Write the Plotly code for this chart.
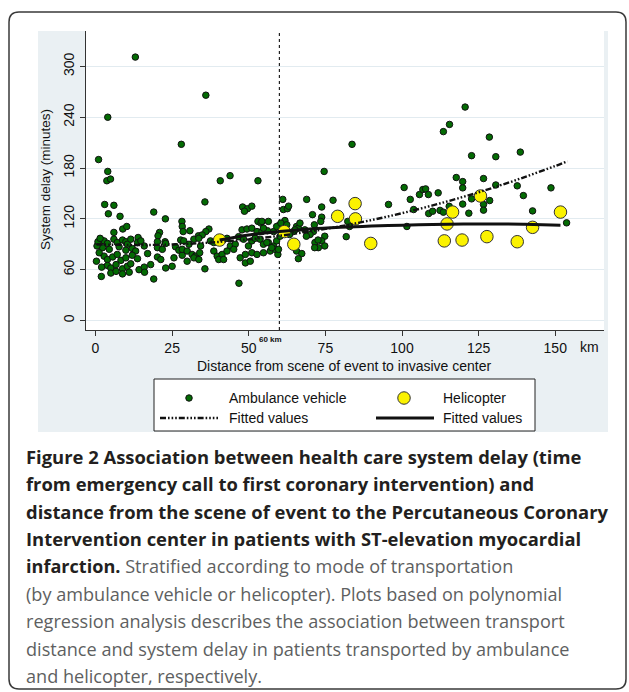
import plotly.graph_objects as go

W, H = 629, 692


def PX(x):
    return x / W


def PY(y):
    return 1 - y / H


# ---------------- data ----------------
amb_km = [
    # 0-30 km, high values / outliers
    13, 4, 1, 4, 3.7, 4.9, 3, 6, 4.2, 8, 19, 22.8, 28, 8.9, 10.2, 6, 28.2, 28.3, 28.6, 20.9, 20.4, 13.9, 22.7, 1.9, 19,
    # 0-30 km, main band
    1.8, 2.8, 3.9, 6.0, 7.1, 8.8, 9.9, 10.4, 11.5, 13.7, 14.8, 20.2, 22.9, 27.8,
    2.3, 4.5, 7.7, 9.9, 12.0, 13.1, 15.9, 20.2, 21.8, 26.1, 27.2,
    2.8, 3.9, 5.6, 7.1, 8.3, 9.9, 12.0, 13.7, 17.0, 20.2, 21.3, 25.6, 28.3,
    3.9, 5.0, 6.7, 8.8, 10.4, 11.5, 14.2, 15.9, 18.0, 22.9, 25.0,
    5.0, 6.7, 8.8, 11.0, 16.0,
    0.5, 0.8, 1.2, 0.3, 1.5, 2.0,
    # 28-60 km
    36, 40.7, 43.9, 53, 35.7, 48, 49.6, 51, 48.6, 53, 54, 59.8, 33.6, 37, 36,
    30.8, 34.8, 47.8, 49.4, 51, 52.7, 54.3, 56.1, 58.1,
    28.8, 30.5, 32.1, 33.7, 34.3, 37.5, 38.6, 42.9, 44, 45.6, 46.7, 48.3, 49.9, 51, 52.1, 53.7, 54.8, 56.4, 58.1, 59.1,
    28.3, 29.9, 31.5, 32.6, 34, 38.6, 39.7, 41.3, 42.9, 45.1, 47.2, 48.9, 51, 52.7, 54.8, 57, 58.6, 59.5,
    29.9, 32.1, 33.7, 40.2, 41.8, 48.9, 50.5,
    35.7, 46.8,
    # 54-75 km
    54.3, 56.4, 54.8, 59.1, 60.2, 55.9, 57.5, 59.7, 61.1, 61.3, 62.6, 63, 61.8, 64.6, 65.6, 66.2, 66.7, 68.9,
    70.8, 71.4, 73.8, 73.8, 73.5, 74.8, 71.1, 70, 71.6, 73.8, 74.8, 72.7, 65.6, 67.3, 66.2, 65.1, 63.3,
    68.3, 68.8, 72.6, 71.5, 60.5, 62.4,
    # 75-105 km
    83.7, 74.6, 77.5, 81.8, 82.9, 82.3, 95.6, 100.7, 102.7, 103.8, 101.6,
    # 105-155 km
    120.6, 115.5, 113.5, 128.5, 122.7, 130.6, 138.6, 117.7, 119.8, 119.8, 126.6, 105.7, 106.8, 107.7, 108.6,
    111.8, 137.6, 139.6, 148.6, 122.7, 119.8, 121.8, 126.6, 126.6, 128.6, 130.6, 108.7, 110, 112.4, 113.5,
    115.4, 142.6, 153.7,
]
amb_min = [
    311, 240, 190, 176, 165, 167, 137, 136, 126, 123, 128, 120, 208, 108, 111, 104, 117, 111, 105, 104, 100, 98, 93, 52, 49,
    95, 94, 91, 96, 92, 95, 93, 90, 96, 92, 94, 93, 91, 95,
    86, 84, 87, 83, 85, 82, 88, 86, 84, 87, 83,
    76, 72, 75, 78, 71, 74, 77, 73, 79, 75, 72, 74, 77,
    65, 62, 66, 61, 64, 67, 60, 63, 66, 62, 64,
    56, 58, 55, 57, 57,
    88, 93, 80, 70, 97, 63,
    266, 165, 171, 165, 140, 134, 132, 135, 129, 117, 115, 112, 100, 108, 105,
    106, 101, 107, 108, 109, 105, 105, 106, 105,
    94, 90, 96, 97, 88, 94, 92, 97, 88, 90, 99, 96, 88, 94, 97, 96, 90, 92, 88, 94,
    84, 82, 78, 76, 80, 82, 76, 78, 82, 84, 74, 78, 80, 78, 80, 82, 84, 78,
    70, 74, 72, 72, 72, 68, 70,
    61, 44,
    117, 117, 109, 111, 99.5, 92, 86, 84, 143, 131, 132, 135, 118, 105, 111, 109, 115, 143,
    125, 113, 134, 122, 117, 99.5, 105, 101.5, 92, 94, 88, 86, 82, 79, 73, 107, 101.5,
    107, 99.5, 95, 86, 115, 113,
    208, 176, 142, 99, 111, 117, 137, 157, 143, 131, 111,
    252, 231.5, 223, 216.5, 194.6, 193.4, 198.8, 168.8, 164, 156.6, 167.6, 148.7, 154.6, 155.4, 148.7,
    150.7, 159, 147.5, 156.6, 143.6, 137.4, 126.7, 137, 130.3, 141.6, 160, 126.3, 129, 130, 127.9,
    134.8, 129.4, 115.3,
]

heli_km = [40.5, 61.6, 64.7, 79, 84.7, 84.8, 89.8, 113.8, 114.7, 116.5, 119.6, 125.6, 127.7, 137.6, 142.6, 151.7]
heli_min = [95, 105, 90, 123, 138, 120, 91, 94, 114, 128, 95, 147, 99, 93, 110, 128]

amb_fit_km = [0.3, 10, 20, 30, 40, 50, 60, 70, 80, 90, 100, 110, 120, 130, 140, 150, 154]
amb_fit_min = [90, 89.2, 89.3, 90.5, 92.7, 95.8, 100, 105.2, 111.3, 118.5, 126.7, 135.9, 146, 157.1, 169.3, 182.4, 188]

heli_fit_km = [40.5, 50, 60, 70, 80, 90, 100, 110, 120, 130, 140, 151.7]
heli_fit_min = [95, 101, 105, 108, 110, 111.5, 112.5, 113.3, 113.8, 114, 113.5, 112.5]

x_ticks = [0, 25, 50, 75, 100, 125, 150]
y_ticks = [0, 60, 120, 180, 240, 300]
cutoff_km = 60

caption_lines = [
    "<b>Figure 2 Association between health care system delay (time</b>",
    "<b>from emergency call to first coronary intervention) and</b>",
    "<b>distance from the scene of event to the Percutaneous Coronary</b>",
    "<b>Intervention center in patients with ST-elevation myocardial</b>",
    "<b><span style='color:#231f20'>infarction.</span></b> Stratified according to mode of transportation",
    "(by ambulance vehicle or helicopter). Plots based on polynomial",
    "regression analysis describes the association between transport",
    "distance and system delay in patients transported by ambulance",
    "and helicopter, respectively.",
]
caption_bold = [True, True, True, True, False, False, False, False, False]

# ---------------- geometry (pixels) ----------------
PLOT_L, PLOT_R, PLOT_T, PLOT_B = 85.5, 604, 31, 330
X0_PX, X_SCALE = 95.5, 3.065      # px of 0 km, px per km
Y0_PX, Y_SCALE = 320.5, 0.847     # px of 0 min, px per min
x_range = [(PLOT_L - X0_PX) / X_SCALE, (PLOT_R - X0_PX) / X_SCALE]
y_range = [(Y0_PX - PLOT_B) / Y_SCALE, (Y0_PX - PLOT_T) / Y_SCALE]

AX_FONT = "Liberation Sans, Arial, sans-serif"
CAP_FONT = "Open Sans, Noto Sans, sans-serif"
GREEN = "#036b03"
YELLOW = "#fbf200"

fig = go.Figure()

fig.add_trace(go.Scatter(
    x=amb_km, y=amb_min, mode="markers", name="Ambulance vehicle",
    marker=dict(size=6.5, color=GREEN, line=dict(color="#111111", width=1)),
))
fig.add_trace(go.Scatter(
    x=heli_km, y=heli_min, mode="markers", name="Helicopter",
    marker=dict(size=12.5, color=YELLOW, line=dict(color="#333333", width=1)),
))
AMB_DASH = "6px,2px,1.6px,2px,1.6px,2px,1.6px,2px"
fig.add_trace(go.Scatter(
    x=amb_fit_km, y=amb_fit_min, mode="lines", name="Fitted values",
    line=dict(color="#111111", width=2.4, dash=AMB_DASH, shape="spline"),
))
fig.add_trace(go.Scatter(
    x=heli_fit_km, y=heli_fit_min, mode="lines", name="Fitted values",
    line=dict(color="#111111", width=3, shape="spline"),
))

shapes = []
# gray graph region around the plot region
GRAY = "#eaf0f3"
for x0, y0, x1, y1 in [(38, 31, PLOT_L, 432), (38, PLOT_B, 608, 432), (PLOT_R, 31, 608, PLOT_B)]:
    shapes.append(dict(type="rect", xref="paper", yref="paper", x0=PX(x0), x1=PX(x1),
                       y0=PY(y1), y1=PY(y0), fillcolor=GRAY, line=dict(width=0), layer="below"))
# dotted cut-off line at 60 km
shapes.append(dict(type="line", xref="x", yref="paper", x0=cutoff_km, x1=cutoff_km,
                   y0=PY(PLOT_B), y1=PY(PLOT_T), line=dict(color="#222222", width=1.2, dash="dot"),
                   layer="between"))

# legend box
shapes.append(dict(type="rect", xref="paper", yref="paper", x0=PX(154), x1=PX(535),
                   y0=PY(431), y1=PY(379), fillcolor="white", line=dict(color="#222222", width=1)))
def circle(cx, cy, d, fill, lc):
    return dict(type="circle", xref="paper", yref="paper", x0=PX(cx - d / 2), x1=PX(cx + d / 2),
                y0=PY(cy + d / 2), y1=PY(cy - d / 2), fillcolor=fill, line=dict(color=lc, width=1))
shapes.append(circle(189, 398, 6.5, GREEN, "#111111"))
shapes.append(circle(404, 398, 12.5, YELLOW, "#333333"))
shapes.append(dict(type="line", xref="paper", yref="paper", x0=PX(160), x1=PX(218), y0=PY(418), y1=PY(418),
                   line=dict(color="#111111", width=2.4, dash=AMB_DASH)))
shapes.append(dict(type="line", xref="paper", yref="paper", x0=PX(376), x1=PX(434), y0=PY(418), y1=PY(418),
                   line=dict(color="#111111", width=3)))

# rounded outer frame
fx0, fy0, fx1, fy1, r = 9, 12, 626, 689, 10
def P(x, y):
    return f"{PX(x):.5f},{PY(y):.5f}"
path = (f"M {P(fx0 + r, fy0)} L {P(fx1 - r, fy0)} Q {P(fx1, fy0)} {P(fx1, fy0 + r)} "
        f"L {P(fx1, fy1 - r)} Q {P(fx1, fy1)} {P(fx1 - r, fy1)} L {P(fx0 + r, fy1)} "
        f"Q {P(fx0, fy1)} {P(fx0, fy1 - r)} L {P(fx0, fy0 + r)} Q {P(fx0, fy0)} {P(fx0 + r, fy0)} Z")
shapes.append(dict(type="path", xref="paper", yref="paper", path=path,
                   line=dict(color="#3a3a3a", width=1.5)))

annotations = []
def text(x, y, s, size=14, anchor="left", color="#111111", family=AX_FONT, angle=0):
    annotations.append(dict(x=PX(x), y=PY(y), xref="paper", yref="paper", text=s, showarrow=False,
                            xanchor=anchor, yanchor="middle", textangle=angle,
                            font=dict(family=family, size=size, color=color)))

text(344, 366, "Distance from scene of event to invasive center", 14, "center")
text(46, 180, "System delay (minutes)", 13.5, "center", angle=-90)
text(589, 347, "km", 14, "center")
text(270, 339, "<b>60 km</b>", 8, "center")
text(227, 398, "Ambulance vehicle", 14)
text(441, 398, "Helicopter", 14)
text(227, 418, "Fitted values", 14)
text(441, 418, "Fitted values", 14)

cap_y = [456 + 27.5 * i for i in range(len(caption_lines))]
for s, yy, b in zip(caption_lines, cap_y, caption_bold):
    text(24, yy, s, 18.4 if b else 18.1, "left", "#231f20" if b else "#5e5f61", CAP_FONT)

fig.update_layout(
    width=W, height=H, autosize=False,
    margin=dict(l=0, r=0, t=0, b=0),
    paper_bgcolor="white", plot_bgcolor="white",
    showlegend=False,
    shapes=shapes, annotations=annotations,
    xaxis=dict(domain=[PX(PLOT_L), PX(PLOT_R)], range=x_range, tickvals=x_ticks,
               ticks="outside", ticklen=5, tickwidth=1, tickcolor="#333333",
               showline=True, linecolor="#333333", linewidth=1, showgrid=False, zeroline=False,
               tickfont=dict(family=AX_FONT, size=14, color="#111111")),
    yaxis=dict(domain=[PY(PLOT_B), PY(PLOT_T)], range=y_range, tickvals=y_ticks, tickangle=-90,
               ticks="outside", ticklen=5, tickwidth=1, tickcolor="#333333",
               showline=True, linecolor="#333333", linewidth=1, showgrid=True,
               gridcolor="#e2ebf0", gridwidth=1, zeroline=False,
               tickfont=dict(family=AX_FONT, size=14, color="#111111")),
)

fig.write_html("out.html", config={"displayModeBar": False},
               post_script="document.body.style.margin='0';document.body.style.overflow='hidden';")
